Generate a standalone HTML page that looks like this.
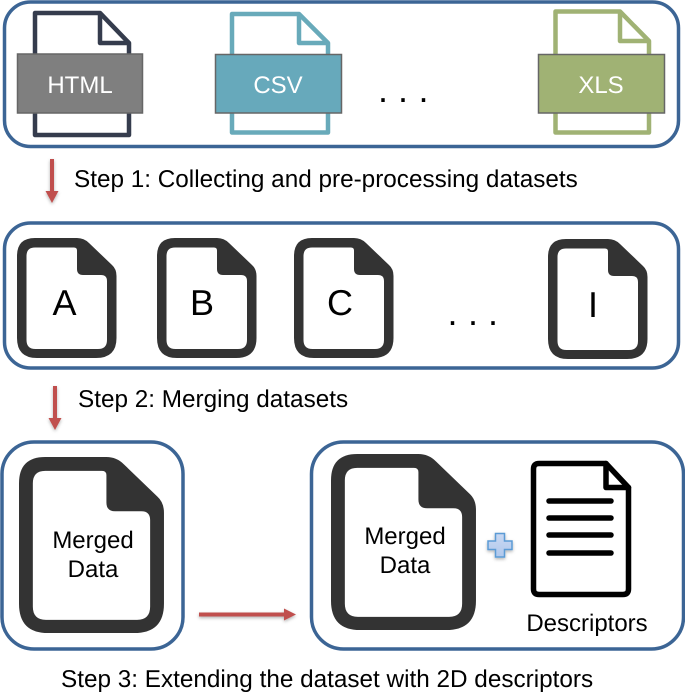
<!DOCTYPE html>
<html><head><meta charset="utf-8"><style>
html,body{margin:0;padding:0;background:#fff}
svg{display:block}
text{font-family:"Liberation Sans",Arial,sans-serif;font-size:24px;fill:#000;text-rendering:geometricPrecision}
.s{font-size:24.3px}
.c{text-anchor:middle}
.w{fill:#fff;text-anchor:middle}
.l{font-size:36px;text-anchor:middle}
.d{font-size:36px;text-anchor:middle}
</style></head><body>
<svg width="685" height="693" viewBox="0 0 685 693" xmlns="http://www.w3.org/2000/svg">
<defs>
<path id="doc" fill="#333" fill-rule="evenodd" d="M18 0H60Q67 0 72 5L95 27Q99.500 31 99.500 38V100Q99.500 120 79 120H20Q0 120 0 100V18Q0 0 18 0ZM18 9.500Q9.500 9.500 9.500 18V102Q9.500 111 18.500 111H81Q90 111 90 102V43Q90 37 84 37H66Q60 37 60 31V12.500Q60 9.500 57 9.500Z"/>
<filter id="sh" x="-40%" y="-40%" width="180%" height="180%"><feDropShadow dx="0" dy="1.500" stdDeviation="1.500" flood-color="#000" flood-opacity=".3"/></filter>
<linearGradient id="pl" x1="0" y1="0" x2="0" y2="1"><stop offset="0" stop-color="#c9d8f2"/><stop offset="1" stop-color="#b0c8ec"/></linearGradient>
</defs>
<rect width="685" height="693" fill="#fff"/>
<g fill="#fff" stroke="#3c6595" stroke-width="3.500">
<rect x="4.500" y="2" width="674" height="144.500" rx="26"/>
<rect x="4.500" y="223" width="674" height="145" rx="26"/>
<rect x="2" y="442" width="181" height="207" rx="32"/>
<rect x="311.500" y="442" width="372" height="207" rx="32"/>
</g>

<!-- HTML -->
<g fill="none" stroke="#353c4d" stroke-width="4.500" stroke-linejoin="round">
<path d="M35 13H100L129 43V135H35Z"/><path d="M100 13V43H129"/>
</g>
<rect x="17.500" y="54" width="125" height="59" fill="#7f7f7f" stroke="#666" stroke-width="1.500"/>
<text class="w" x="80" y="93">HTML</text>

<!-- CSV -->
<g fill="none" stroke="#68aaba" stroke-width="4.500" stroke-linejoin="round">
<path d="M232 14H299L328 43V132.500H232Z"/><path d="M299 14V43H328"/>
</g>
<rect x="215.500" y="54.500" width="126" height="58.500" fill="#67a9bb" stroke="#666" stroke-width="1.500"/>
<text class="w" x="278" y="93">CSV</text>

<!-- dots -->
<text class="d" x="383" y="102">.</text><text class="d" x="403" y="102">.</text><text class="d" x="423.500" y="102">.</text>

<!-- XLS -->
<g fill="none" stroke="#a0b274" stroke-width="4.500" stroke-linejoin="round">
<path d="M555.500 11.500H620L649 41V132.500H555.500Z"/><path d="M620 11.500V41H649"/>
</g>
<rect x="538.500" y="54.500" width="126" height="58.500" fill="#a0b274" stroke="#666" stroke-width="1.500"/>
<text class="w" x="601" y="93">XLS</text>

<!-- Arrows -->
<g fill="#c0504d" filter="url(#sh)">
<path d="M50 159H54V191H58.500L52 203L45.500 191H50Z"/>
<path d="M53 386H57V418H61.500L55 430L48.500 418H53Z"/>
<path d="M199 612.500H284V608.500L296 614.500L284 620.500V616.500H199Z"/>
</g>

<text class="s" x="74" y="187">Step 1: Collecting and pre-processing datasets</text>
<text class="s" x="78" y="407">Step 2: Merging datasets</text>
<text class="s" x="61" y="687">Step 3: Extending the dataset with 2D descriptors</text>

<!-- Row 2 -->
<use href="#doc" transform="translate(17 238)"/>
<use href="#doc" transform="translate(157 238)"/>
<use href="#doc" transform="translate(294 238)"/>
<use href="#doc" transform="translate(548 239)"/>
<text class="l" x="64.500" y="315">A</text>
<text class="l" x="202" y="315">B</text>
<text class="l" x="340" y="315">C</text>
<text class="l" x="593" y="317">I</text>
<text class="d" x="452.500" y="325">.</text><text class="d" x="473" y="325">.</text><text class="d" x="493" y="325">.</text>

<!-- Row 3 -->
<use href="#doc" transform="translate(19 457) scale(1.457 1.467)"/>
<use href="#doc" transform="translate(331 454) scale(1.457 1.467)"/>
<text class="c" x="93" y="548">Merged</text>
<text class="c" x="93" y="577">Data</text>
<text class="c" x="405" y="544">Merged</text>
<text class="c" x="405" y="573">Data</text>

<!-- Plus -->
<path d="M495.500 533.500H504.500V541H512V549.500H504.500V557H495.500V549.500H488V541H495.500Z" fill="url(#pl)" stroke="#5b9bd5" stroke-width="1.500" filter="url(#sh)"/>

<!-- Descriptors doc -->
<g fill="none" stroke="#000" stroke-width="5.500" stroke-linejoin="round" stroke-linecap="round">
<path d="M533.500 469Q533.500 463.500 539 463.500H606L628.500 487.500V589Q628.500 594.500 623 594.500H539Q533.500 594.500 533.500 589Z"/>
<path d="M606 463.500V487.500H628.500"/>
<path d="M549 501H611M549 518H611M549 535H611M549 553H611"/>
</g>
<text class="c" x="587" y="631">Descriptors</text>
</svg>
</body></html>
